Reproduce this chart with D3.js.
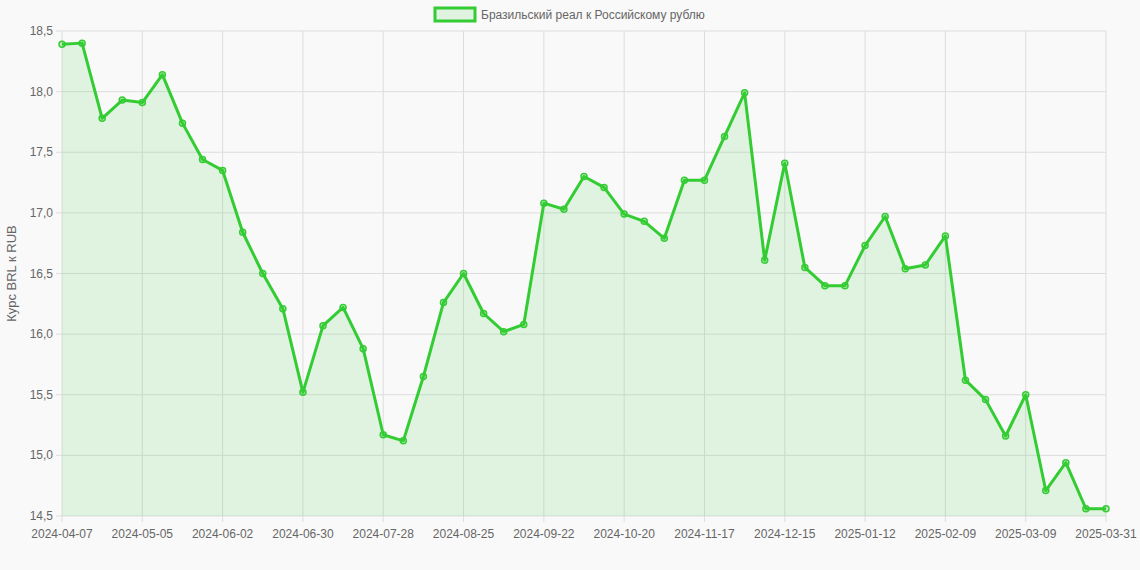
<!DOCTYPE html>
<html><head><meta charset="utf-8">
<script src="https://cdn.jsdelivr.net/npm/d3@7"></script>
<style>body{margin:0;background:#f9f9f9;font-family:"Liberation Sans",Arial,sans-serif}</style>
</head><body><svg id="c" width="1140" height="570"></svg>
<script>
const values = [18.39,18.40,17.78,17.93,17.91,18.14,17.74,17.44,17.35,16.84,16.50,16.21,15.52,16.07,16.22,15.88,15.17,15.12,15.65,16.26,16.50,16.17,16.02,16.08,17.08,17.03,17.30,17.21,16.99,16.93,16.79,17.27,17.27,17.63,17.99,16.61,17.41,16.55,16.40,16.40,16.73,16.97,16.54,16.57,16.81,15.62,15.46,15.16,15.50,14.71,14.94,14.56,14.56];
const yTicks = [14.5,15,15.5,16,16.5,17,17.5,18,18.5];
const seriesName = "Бразильский реал к Российскому рублю";

const fmt = d3.timeFormat("%Y-%m-%d");
const labels = values.map((v,i)=> i===values.length-1 ? "2025-03-31" : fmt(d3.timeDay.offset(new Date(2024,3,7), 7*i)));

const svg = d3.select("#c");
const m = {l:62, r:1106, t:31, b:516};
const x = d3.scalePoint().domain(labels).range([m.l, m.r]);
const y = d3.scaleLinear().domain([14.5,18.5]).range([m.b, m.t]);
const green = "#33cc33";

const shown = labels.filter((d,i)=> i%4===0 || i===labels.length-1);
// grid
svg.append("g").selectAll("line").data(shown).join("line")
  .attr("x1",d=>x(d)).attr("x2",d=>x(d)).attr("y1",m.t).attr("y2",m.b+6)
  .attr("stroke","#dddddd");
svg.append("g").selectAll("line").data(yTicks).join("line")
  .attr("x1",m.l-6).attr("x2",m.r).attr("y1",d=>y(d)).attr("y2",d=>y(d))
  .attr("stroke","#dddddd");

svg.append("g").selectAll("text").data(yTicks).join("text")
  .attr("x",m.l-9).attr("y",d=>y(d)+4).attr("text-anchor","end")
  .attr("font-size",12).attr("fill","#666").text(d=>d.toFixed(1).replace(".",","));
svg.append("g").selectAll("text").data(shown).join("text")
  .attr("x",d=>x(d)).attr("y",m.b+22).attr("text-anchor","middle")
  .attr("font-size",12).attr("fill","#666").text(d=>d);
svg.append("text").attr("transform",`translate(16,${(m.t+m.b)/2}) rotate(-90)`)
  .attr("text-anchor","middle").attr("font-size",13).attr("fill","#666").text("Курс BRL к RUB");

const pts = values.map((v,i)=>[x(labels[i]), y(v)]);
svg.append("path").attr("d", d3.area().x(d=>d[0]).y0(m.b).y1(d=>d[1])(pts))
  .attr("fill","rgba(51,204,51,0.12)");
svg.append("path").attr("d", d3.line()(pts))
  .attr("fill","none").attr("stroke",green).attr("stroke-width",3).attr("stroke-linejoin","round");
svg.append("g").selectAll("circle").data(pts).join("circle")
  .attr("cx",d=>d[0]).attr("cy",d=>d[1]).attr("r",3)
  .attr("fill","rgba(51,204,51,0.25)").attr("stroke",green).attr("stroke-width",1.5);

// legend
svg.append("rect").attr("x",435).attr("y",8).attr("width",40).attr("height",13)
  .attr("fill","rgba(51,204,51,0.12)").attr("stroke",green).attr("stroke-width",3);
svg.append("text").attr("x",481).attr("y",19).attr("font-size",12).attr("fill","#666").text(seriesName);
</script></body></html>
